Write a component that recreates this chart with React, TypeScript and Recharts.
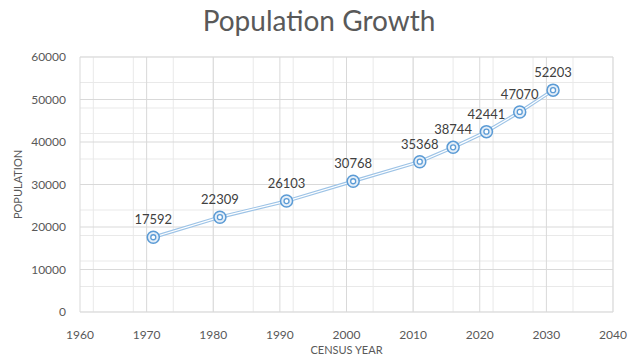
import React from "react";
import {
  ComposedChart,
  Line,
  XAxis,
  YAxis,
  CartesianGrid,
  LabelList,
} from "recharts";

// Census years and population counts
const years = [1971, 1981, 1991, 2001, 2011, 2016, 2021, 2026, 2031];
const population = [17592, 22309, 26103, 30768, 35368, 38744, 42441, 47070, 52203];

const xTicks = [1960, 1970, 1980, 1990, 2000, 2010, 2020, 2030, 2040];
const yTicks = [0, 10000, 20000, 30000, 40000, 50000, 60000];
const xMinor = [1960, 1962, 1964, 1966, 1968, 1970, 1972, 1974, 1976, 1978, 1980, 1982, 1984, 1986, 1988, 1990, 1992, 1994, 1996, 1998, 2000, 2002, 2004, 2006, 2008, 2010, 2012, 2014, 2016, 2018, 2020, 2022, 2024, 2026, 2028, 2030, 2032, 2034, 2036, 2038, 2040];
const yMinor = [0, 2000, 4000, 6000, 8000, 10000, 12000, 14000, 16000, 18000, 20000, 22000, 24000, 26000, 28000, 30000, 32000, 34000, 36000, 38000, 40000, 42000, 44000, 46000, 48000, 50000, 52000, 54000, 56000, 58000, 60000];

const data = years.map((year, i) => ({ year, population: population[i] }));

const FONT = "Lato, 'Open Sans', sans-serif";

const RingDot = (props: any) => {
  const { cx, cy } = props;
  if (cx == null || cy == null) return null;
  return (
    <g>
      <circle cx={cx} cy={cy} r={6} fill="#e4eef8" stroke="#5b9bd5" strokeWidth={1.5} />
      <circle cx={cx} cy={cy} r={2.5} fill="#ffffff" stroke="#5b9bd5" strokeWidth={1.3} />
    </g>
  );
};

export default function App() {
  return (
    <div style={{ position: "absolute", left: 0, top: 0, width: 638, height: 358, background: "#fff", fontFamily: FONT }}>
      <div
        style={{
          position: "absolute",
          left: 0,
          top: 3,
          width: 638,
          textAlign: "center",
          fontSize: 28,
          color: "#595959",
          fontFamily: FONT,
        }}
      >
        Population Growth
      </div>
      <ComposedChart
        width={638}
        height={358}
        data={data}
        margin={{ top: 57, right: 25, bottom: 0, left: 0 }}
      >
        <CartesianGrid
          stroke="#e9e9e9"
          strokeWidth={1}
          horizontalValues={yMinor}
          verticalValues={xMinor}
        />
        <CartesianGrid
          stroke="#d9d9d9"
          strokeWidth={1}
          horizontalValues={yTicks}
          verticalValues={xTicks}
        />
        <XAxis
          dataKey="year"
          type="number"
          domain={[1960, 2040]}
          ticks={xTicks}
          axisLine={false}
          tickLine={false}
          tickMargin={12}
          height={46}
          tick={{ fill: "#595959", fontSize: 12, fontFamily: FONT }}
          label={{
            value: "CENSUS YEAR",
            position: "insideBottom",
            offset: 4,
            fill: "#595959",
            fontSize: 11,
            fontFamily: FONT,
          }}
        />
        <YAxis
          type="number"
          domain={[0, 60000]}
          ticks={yTicks}
          axisLine={false}
          tickLine={false}
          tickMargin={8}
          width={80}
          tick={{ fill: "#595959", fontSize: 12, fontFamily: FONT }}
          label={{
            value: "POPULATION",
            angle: -90,
            position: "insideLeft",
            offset: 18,
            style: { textAnchor: "middle" },
            fill: "#595959",
            fontSize: 11,
            fontFamily: FONT,
          }}
        />
        <Line
          dataKey="population"
          type="linear"
          stroke="#9dc3e6"
          strokeWidth={3.5}
          dot={false}
          activeDot={false}
          isAnimationActive={false}
        />
        <Line
          dataKey="population"
          type="linear"
          stroke="#ffffff"
          strokeWidth={1.2}
          dot={<RingDot />}
          activeDot={false}
          isAnimationActive={false}
        >
          <LabelList
            dataKey="population"
            position="top"
            offset={13}
            fill="#404040"
            fontSize={13}
            fontFamily={FONT}
          />
        </Line>
      </ComposedChart>
    </div>
  );
}
